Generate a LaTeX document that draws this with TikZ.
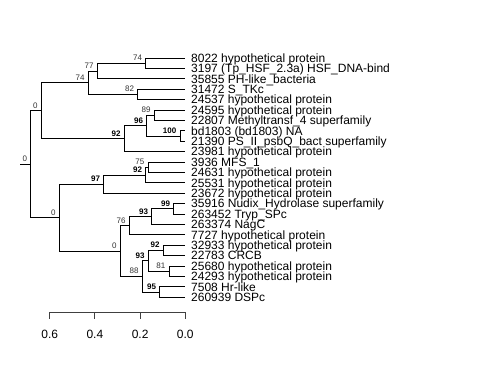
\documentclass[tikz,border=0pt]{standalone}
\usepackage{fontspec}
\setmainfont{Liberation Sans}
\begin{document}
\begin{tikzpicture}[x=1pt,y=-1pt,
  edge/.style={draw=black,line width=0.9pt},
  leaf/.style={anchor=west,inner xsep=6pt,inner ysep=0pt,text height=8.6pt,text depth=0pt,font=\fontsize{12}{12}\selectfont},
  bs/.style={anchor=base east,inner sep=0pt,xshift=-3.5pt,yshift=2.6pt,font=\fontsize{8}{8}\selectfont,text=black!80},
  bsb/.style={bs,font=\fontsize{8}{8}\selectfont\bfseries,text=black},
  axlab/.style={anchor=base,inner sep=0pt,font=\fontsize{12}{12}\selectfont}]
\fill[white] (0,0) rectangle (480,384);
\useasboundingbox (0,0) rectangle (480,384);
% leaves
\node[leaf] (l1) at (185,58.0) {8022 hypothetical protein};
\node[leaf] (l2) at (185,68.4) {3197 (Tp\_HSF\_2.3a) HSF\_DNA-bind};
\node[leaf] (l3) at (185,78.8) {35855 PH-like\_bacteria};
\node[leaf] (l4) at (185,89.2) {31472 S\_TKc};
\node[leaf] (l5) at (185,99.6) {24537 hypothetical protein};
\node[leaf] (l6) at (185,110.0) {24595 hypothetical protein};
\node[leaf] (l7) at (185,120.4) {22807 Methyltransf\_4 superfamily};
\node[leaf] (l8) at (185,130.8) {bd1803 (bd1803) NA};
\node[leaf] (l9) at (185,141.2) {21390 PS\_II\_psbQ\_bact superfamily};
\node[leaf] (l10) at (185,151.6) {23981 hypothetical protein};
\node[leaf] (l11) at (185,162.0) {3936 MFS\_1};
\node[leaf] (l12) at (185,172.4) {24631 hypothetical protein};
\node[leaf] (l13) at (185,182.8) {25531 hypothetical protein};
\node[leaf] (l14) at (185,193.2) {23672 hypothetical protein};
\node[leaf] (l15) at (185,203.6) {35916 Nudix\_Hydrolase superfamily};
\node[leaf] (l16) at (185,214.0) {263452 Tryp\_SPc};
\node[leaf] (l17) at (185,224.4) {263374 NagC};
\node[leaf] (l18) at (185,234.8) {7727 hypothetical protein};
\node[leaf] (l19) at (185,245.2) {32933 hypothetical protein};
\node[leaf] (l20) at (185,255.6) {22783 CRCB};
\node[leaf] (l21) at (185,266.0) {25680 hypothetical protein};
\node[leaf] (l22) at (185,276.4) {24293 hypothetical protein};
\node[leaf] (l23) at (185,286.8) {7508 Hr-like};
\node[leaf] (l24) at (185,297.2) {260939 DSPc};
% internal nodes
\coordinate (A) at (145.7,63.2);
\coordinate (B) at (97.3,71.0);
\coordinate (C) at (137.7,94.4);
\coordinate (D) at (88.3,82.7);
\coordinate (E) at (154.3,115.2);
\coordinate (F) at (180.0,136.0);
\coordinate (G) at (146.7,125.6);
\coordinate (H) at (124.3,138.6);
\coordinate (I) at (41.3,110.65);
\coordinate (J) at (148.0,167.2);
\coordinate (K) at (145.7,175.0);
\coordinate (L) at (103.7,184.1);
\coordinate (M) at (173.7,208.8);
\coordinate (N) at (151.7,216.6);
\coordinate (O) at (129.3,225.7);
\coordinate (P) at (163.3,250.4);
\coordinate (Q) at (169.0,271.2);
\coordinate (R) at (148.3,260.8);
\coordinate (S) at (159.7,292.0);
\coordinate (T) at (142.3,276.4);
\coordinate (U) at (120.3,251.05);
\coordinate (V) at (59.3,217.6);
\coordinate (W) at (30.7,164.1);
\coordinate (root) at (20,164.1);
% edges
\draw[edge] (root) -- (W);
\foreach \p/\c in {W/I, W/V, I/D, I/H, D/B, D/C, B/A, H/G, G/E, G/F,
                   V/L, V/U, L/K, K/J, U/O, U/T, O/N, N/M, T/R, T/S, R/P, R/Q}
  \draw[edge] (\p) |- (\c);
\foreach \p/\c in {A/l1, A/l2, B/l3, C/l4, C/l5, E/l6, E/l7, F/l8, F/l9, H/l10,
                   J/l11, J/l12, K/l13, L/l14, M/l15, M/l16, N/l17, O/l18,
                   P/l19, P/l20, Q/l21, Q/l22, S/l23, S/l24}
  \draw[edge] (\p) |- (\c.west);
% support values
\node[bs] (bW) at (W) {0};
\node[bs] (bI) at (I) {0};
\node[bs] (bD) at (D) {74};
\node[bs] (bB) at (B) {77};
\node[bs] (bA) at (A) {74};
\node[bs] (bC) at (C) {82};
\node[bsb] (bH) at (H) {92};
\node[bsb] (bG) at (G) {96};
\node[bs] (bE) at (E) {89};
\node[bsb] (bF) at (F) {100};
\node[bs] (bV) at (V) {0};
\node[bsb] (bL) at (L) {97};
\node[bsb] (bK) at (K) {92};
\node[bs] (bJ) at (J) {75};
\node[bs] (bU) at (U) {0};
\node[bs] (bO) at (O) {76};
\node[bsb] (bN) at (N) {93};
\node[bsb] (bM) at (M) {99};
\node[bs] (bT) at (T) {88};
\node[bsb] (bR) at (R) {93};
\node[bsb] (bP) at (P) {92};
\node[bs] (bQ) at (Q) {81};
\node[bsb] (bS) at (S) {95};
% scale axis
\coordinate (a6) at (49.7,312.3);
\coordinate (a4) at (94.9,312.3);
\coordinate (a2) at (140.1,312.3);
\coordinate (a0) at (185.3,312.3);
\draw[edge,draw=black!75] (a6) -- (a0);
\foreach \t/\v in {a6/0.6, a4/0.4, a2/0.2, a0/0.0} {
  \draw[edge,draw=black!75] (\t) -- ++(0,6.8);
  \node[axlab] at ([yshift=-25.8pt]\t) {\v};
}
\end{tikzpicture}
\end{document}
